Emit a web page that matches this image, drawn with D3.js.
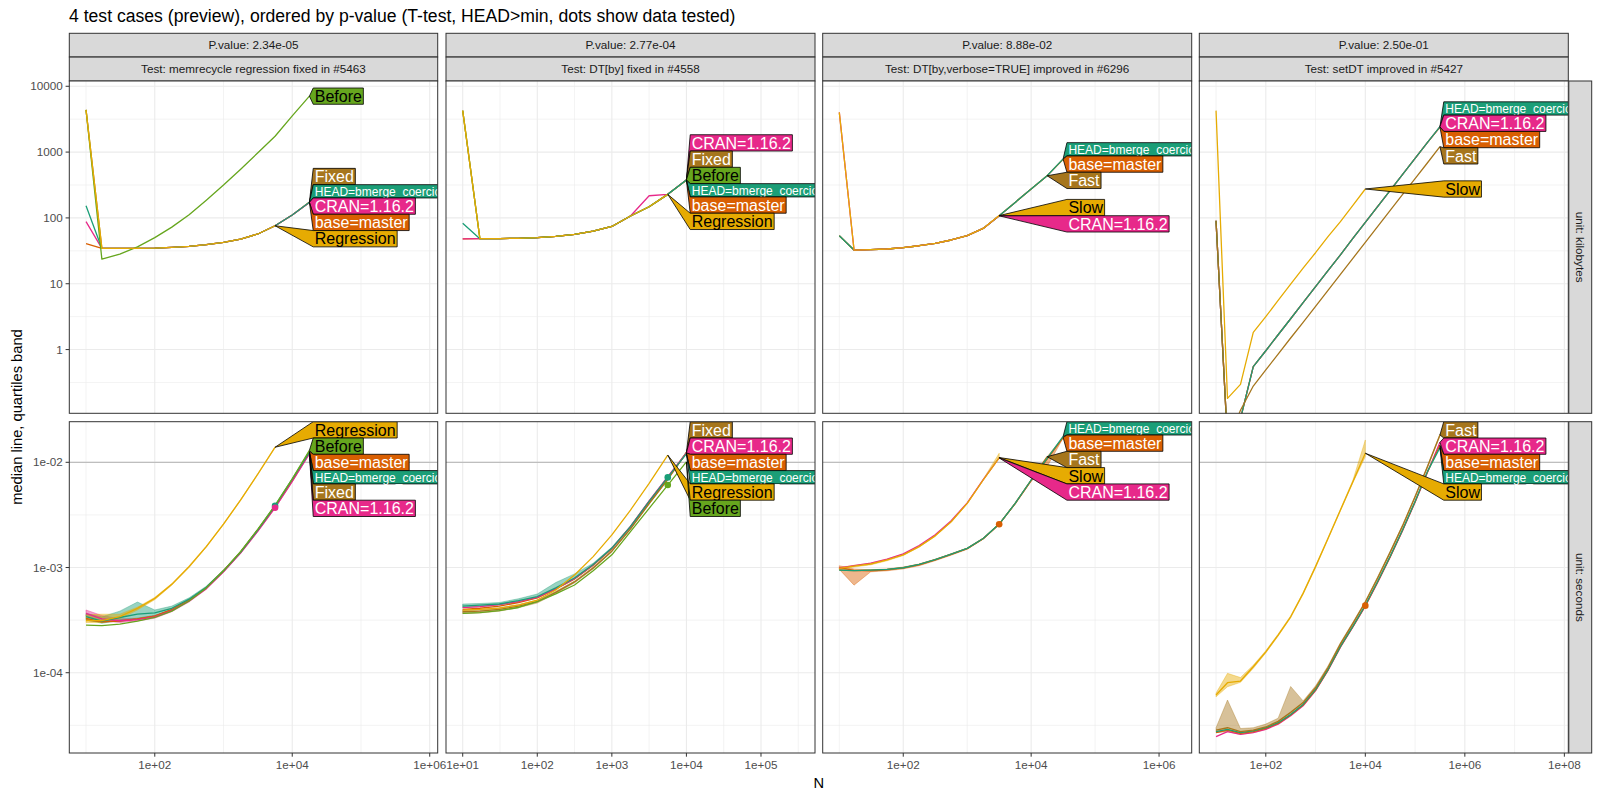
<!DOCTYPE html>
<html>
<head>
<meta charset="utf-8">
<script src="https://cdn.jsdelivr.net/npm/d3@7"></script>
<style>
  body { margin: 0; background: #fff; }
</style>
</head>
<body>
<div id="chart"></div>
<script>
// ---- data ----
const N_values = [10, 17, 31, 56, 100, 177, 316, 562, 1000, 1778, 3162, 5623, 10000, 17782, 31622, 56234, 100000, 177827, 316227];

const pValues = ["2.34e-05", "2.77e-04", "8.88e-02", "2.50e-01"];
const testNames = ["memrecycle regression fixed in #5463", "DT[by] fixed in #4558",
  "DT[by,verbose=TRUE] improved in #6296", "setDT improved in #5427"];
const units = ["kilobytes", "seconds"];

const seriesLabel = { HEAD: "HEAD=bmerge_coercion", base: "base=master", CRAN: "CRAN=1.16.2",
  Before: "Before", Regression: "Regression", Fixed: "Fixed", Fast: "Fast", Slow: "Slow" };

// memory, kilobytes (key order = drawing order)
const kb1 = {
  Fixed:      [4370, 34.4, 34.4, 34.5, 34.7, 35.7, 37.0, 39.2, 42.5, 47.8, 57.0, 76.0, 111, 174],
  base:       [40.6, 34.4, 34.4, 34.5, 34.7, 35.7, 37.0, 39.2, 42.5, 47.8, 57.0, 76.0, 111, 171],
  CRAN:       [88, 34.4, 34.4, 34.5, 34.7, 35.7, 37.0, 39.2, 42.5, 47.8, 57.0, 76.0, 111, 172],
  HEAD:       [153, 34.4, 34.4, 34.5, 34.7, 35.7, 37.0, 39.2, 42.5, 47.8, 57.0, 76.0, 111, 173],
  Before:     [4370, 23.7, 28.2, 36.3, 50.1, 72.4, 112, 186, 316, 550, 977, 1740, 3550, 7080],
  Regression: [4370, 34.4, 34.4, 34.5, 34.7, 35.7, 37.0, 39.2, 42.5, 47.8, 57.0, 76.0]
};
const kb2 = {
  Fixed:      [4270, 48.3, 48.5, 49.0, 50.1, 52.5, 56.2, 63.1, 74.1, 107, 148, 228, 378],
  base:       [48, 48.3, 48.5, 49.0, 50.1, 52.5, 56.2, 63.1, 74.1, 107, 148, 228, 374],
  CRAN:       [48, 48.3, 48.5, 49.0, 50.1, 52.5, 56.2, 63.1, 74.1, 107, 217, 228, 380],
  Before:     [4270, 48.3, 48.5, 49.0, 50.1, 52.5, 56.2, 63.1, 74.1, 107, 148, 228, 377],
  HEAD:       [83, 48.3, 48.5, 49.0, 50.1, 52.5, 56.2, 63.1, 74.1, 107, 148, 228, 376],
  Regression: [4270, 48.3, 48.5, 49.0, 50.1, 52.5, 56.2, 63.1, 74.1, 107, 148, 228]
};
const kb3 = {
  Fast: [53.7, 32.5, 32.9, 33.7, 35.3, 37.8, 41.1, 46.2, 53.7, 69.2, 108, 172, 275, 437],
  base: [53.7, 32.5, 32.9, 33.7, 35.3, 37.8, 41.1, 46.2, 53.7, 69.2, 108, 172, 275, 437, 780],
  HEAD: [53.7, 32.5, 32.9, 33.7, 35.3, 37.8, 41.1, 46.2, 53.7, 69.2, 108, 172, 275, 437, 790],
  CRAN: [4020, 32.5, 32.9, 33.7, 35.3, 37.8, 41.1, 46.2, 53.7, 69.2, 107.5],
  Slow: [4020, 32.5, 32.9, 33.7, 35.3, 37.8, 41.1, 46.2, 53.7, 69.2, 108.5]
};
const kb4 = {
  CRAN: [90.8, 0.0398, 0.0891, 0.550, 0.959, 1.68, 2.94, 5.15, 9.02, 15.8, 27.5, 48.8, 85.5, 150, 262, 458, 804, 1406, 2420],
  base: [90.8, 0.0398, 0.0891, 0.550, 0.959, 1.68, 2.94, 5.15, 9.02, 15.8, 27.5, 48.8, 85.5, 150, 262, 458, 804, 1406, 2400],
  HEAD: [90.8, 0.0398, 0.0891, 0.550, 0.959, 1.68, 2.94, 5.15, 9.02, 15.8, 27.5, 48.8, 85.5, 150, 262, 458, 804, 1406, 2440],
  Fast: [90.8, 0.0398, 0.120, 0.279, 0.490, 0.855, 1.50, 2.59, 4.53, 7.93, 13.9, 24.3, 42.5, 74.3, 130, 228, 394, 689, 1208],
  Slow: [4266, 0.181, 0.296, 1.82, 3.16, 5.58, 9.89, 17.3, 29.6, 51.9, 87.7, 155, 275]
};

// time, seconds: median
const sec1 = {
  Fixed:      [3.17e-4, 3.05e-4, 3.10e-4, 3.25e-4, 3.45e-4, 3.95e-4, 4.85e-4, 6.40e-4, 9.25e-4, 1.40e-3, 2.27e-3, 3.78e-3, 6.72e-3, 1.23e-2],
  base:       [3.29e-4, 3.05e-4, 3.12e-4, 3.25e-4, 3.45e-4, 3.98e-4, 4.90e-4, 6.46e-4, 9.33e-4, 1.41e-3, 2.29e-3, 3.80e-3, 6.76e-3, 1.27e-2],
  CRAN:       [3.66e-4, 3.25e-4, 3.12e-4, 3.20e-4, 3.40e-4, 3.90e-4, 4.80e-4, 6.30e-4, 9.10e-4, 1.38e-3, 2.22e-3, 3.70e-3, 6.60e-3, 1.21e-2],
  HEAD:       [3.41e-4, 3.10e-4, 3.35e-4, 3.60e-4, 3.70e-4, 4.10e-4, 5.00e-4, 6.50e-4, 9.30e-4, 1.40e-3, 2.28e-3, 3.85e-3, 6.90e-3, 1.25e-2],
  Before:     [2.84e-4, 2.80e-4, 2.90e-4, 3.10e-4, 3.35e-4, 3.85e-4, 4.80e-4, 6.40e-4, 9.30e-4, 1.42e-3, 2.32e-3, 3.90e-3, 6.95e-3, 1.30e-2],
  Regression: [3.13e-4, 3.13e-4, 3.41e-4, 4.09e-4, 5.09e-4, 6.92e-4, 1.02e-3, 1.58e-3, 2.59e-3, 4.39e-3, 7.74e-3, 1.39e-2]
};
const sec2 = {
  Fixed:      [3.80e-4, 3.85e-4, 4.00e-4, 4.30e-4, 4.75e-4, 5.80e-4, 7.30e-4, 9.90e-4, 1.43e-3, 2.33e-3, 4.05e-3, 6.90e-3, 1.24e-2],
  base:       [4.00e-4, 4.10e-4, 4.30e-4, 4.65e-4, 5.15e-4, 6.25e-4, 7.80e-4, 1.05e-3, 1.51e-3, 2.43e-3, 4.20e-3, 7.10e-3, 1.225e-2],
  CRAN:       [4.15e-4, 4.25e-4, 4.45e-4, 4.75e-4, 5.20e-4, 6.30e-4, 7.85e-4, 1.06e-3, 1.52e-3, 2.46e-3, 4.30e-3, 7.30e-3, 1.23e-2],
  Before:     [3.66e-4, 3.72e-4, 3.89e-4, 4.17e-4, 4.73e-4, 5.62e-4, 6.82e-4, 9.33e-4, 1.32e-3, 2.19e-3, 3.65e-3, 6.08e-3, 1.01e-2],
  HEAD:       [4.30e-4, 4.40e-4, 4.50e-4, 4.85e-4, 5.30e-4, 6.40e-4, 7.95e-4, 1.07e-3, 1.53e-3, 2.45e-3, 4.25e-3, 7.19e-3, 1.21e-2],
  Regression: [3.94e-4, 4.00e-4, 4.12e-4, 4.40e-4, 4.91e-4, 6.11e-4, 8.49e-4, 1.27e-3, 2.04e-3, 3.52e-3, 6.31e-3, 1.17e-2]
};
const sec3 = {
  Fast: [9.46e-4, 9.33e-4, 9.46e-4, 9.59e-4, 9.95e-4, 1.07e-3, 1.19e-3, 1.34e-3, 1.52e-3, 1.89e-3, 2.59e-3, 4.07e-3, 6.79e-3, 1.13e-2],
  base: [1.00e-3, 9.40e-4, 9.30e-4, 9.50e-4, 9.90e-4, 1.06e-3, 1.18e-3, 1.33e-3, 1.51e-3, 1.88e-3, 2.58e-3, 4.05e-3, 6.70e-3, 1.07e-2, 1.72e-2],
  HEAD: [9.46e-4, 9.33e-4, 9.46e-4, 9.59e-4, 9.95e-4, 1.07e-3, 1.19e-3, 1.34e-3, 1.52e-3, 1.89e-3, 2.59e-3, 4.07e-3, 6.79e-3, 1.09e-2, 1.76e-2],
  CRAN: [9.90e-4, 1.04e-3, 1.10e-3, 1.20e-3, 1.35e-3, 1.62e-3, 2.05e-3, 2.78e-3, 4.12e-3, 6.85e-3, 1.10e-2],
  Slow: [9.82e-4, 1.03e-3, 1.08e-3, 1.18e-3, 1.32e-3, 1.58e-3, 2.00e-3, 2.72e-3, 4.07e-3, 6.79e-3, 1.11e-2]
};
const sec4 = {
  CRAN: [2.47e-5, 2.75e-5, 2.60e-5, 2.70e-5, 2.90e-5, 3.25e-5, 3.90e-5, 4.85e-5, 6.75e-5, 1.05e-4, 1.75e-4, 2.72e-4, 4.30e-4, 7.25e-4, 1.26e-3, 2.25e-3, 4.18e-3, 8.05e-3, 1.55e-2],
  base: [2.70e-5, 2.85e-5, 2.65e-5, 2.75e-5, 2.96e-5, 3.30e-5, 3.96e-5, 4.93e-5, 6.84e-5, 1.06e-4, 1.77e-4, 2.74e-4, 4.34e-4, 7.33e-4, 1.27e-3, 2.27e-3, 4.22e-3, 8.13e-3, 1.45e-2],
  HEAD: [2.75e-5, 2.90e-5, 2.70e-5, 2.80e-5, 3.00e-5, 3.35e-5, 4.00e-5, 5.00e-5, 6.90e-5, 1.07e-4, 1.78e-4, 2.76e-4, 4.38e-4, 7.40e-4, 1.28e-3, 2.29e-3, 4.25e-3, 8.20e-3, 1.38e-2],
  Fast: [2.85e-5, 3.00e-5, 2.75e-5, 2.85e-5, 3.05e-5, 3.45e-5, 4.20e-5, 5.20e-5, 7.20e-5, 1.12e-4, 1.88e-4, 2.95e-4, 4.70e-4, 8.00e-4, 1.40e-3, 2.50e-3, 4.70e-3, 9.10e-3, 1.82e-2],
  Slow: [6.14e-5, 8.04e-5, 8.34e-5, 1.14e-4, 1.58e-4, 2.28e-4, 3.40e-4, 5.68e-4, 1.02e-3, 1.89e-3, 3.52e-3, 6.55e-3, 1.22e-2]
};

// time, seconds: quartile bands (only where the band is wide enough to see)
const q25_1 = {
  CRAN:       [3.45e-4, 3.10e-4, 3.00e-4, 3.10e-4, 3.30e-4, 3.80e-4, 4.70e-4, 6.20e-4, 9.00e-4, 1.36e-3, 2.20e-3, 3.65e-3, 6.50e-3, 1.19e-2],
  HEAD:       [3.20e-4, 2.95e-4, 3.15e-4, 3.30e-4, 3.50e-4, 3.95e-4, 4.85e-4, 6.35e-4, 9.10e-4, 1.38e-3, 2.24e-3, 3.75e-3, 6.75e-3, 1.22e-2],
  Regression: [3.00e-4, 3.00e-4, 3.25e-4, 3.95e-4, 4.95e-4, 6.80e-4, 1.00e-3, 1.56e-3, 2.56e-3, 4.35e-3, 7.65e-3, 1.37e-2]
};
const q75_1 = {
  CRAN:       [3.95e-4, 3.50e-4, 3.25e-4, 3.30e-4, 3.50e-4, 4.00e-4, 4.90e-4, 6.40e-4, 9.20e-4, 1.40e-3, 2.25e-3, 3.75e-3, 6.70e-3, 1.23e-2],
  HEAD:       [3.65e-4, 3.40e-4, 3.85e-4, 4.70e-4, 3.95e-4, 4.30e-4, 5.15e-4, 6.65e-4, 9.50e-4, 1.43e-3, 2.32e-3, 3.95e-3, 7.05e-3, 1.28e-2],
  Regression: [3.55e-4, 3.60e-4, 3.60e-4, 4.20e-4, 5.20e-4, 7.05e-4, 1.04e-3, 1.60e-3, 2.62e-3, 4.45e-3, 7.85e-3, 1.41e-2]
};
const q25_2 = {
  Fixed: [3.65e-4, 3.70e-4, 3.85e-4, 4.15e-4, 4.60e-4, 5.65e-4, 7.15e-4, 9.70e-4, 1.41e-3, 2.30e-3, 4.00e-3, 6.80e-3, 1.22e-2],
  HEAD:  [4.15e-4, 4.25e-4, 4.40e-4, 4.70e-4, 5.15e-4, 6.20e-4, 7.75e-4, 1.05e-3, 1.50e-3, 2.41e-3, 4.18e-3, 7.05e-3, 1.19e-2]
};
const q75_2 = {
  Fixed: [3.95e-4, 4.00e-4, 4.15e-4, 4.45e-4, 4.90e-4, 5.95e-4, 7.45e-4, 1.01e-3, 1.45e-3, 2.36e-3, 4.10e-3, 7.00e-3, 1.26e-2],
  HEAD:  [4.50e-4, 4.55e-4, 4.65e-4, 5.05e-4, 5.60e-4, 7.20e-4, 8.70e-4, 1.10e-3, 1.56e-3, 2.49e-3, 4.32e-3, 7.30e-3, 1.23e-2]
};
const q25_3 = {
  base: [9.60e-4, 6.80e-4, 9.10e-4, 9.30e-4, 9.70e-4, 1.04e-3, 1.16e-3, 1.31e-3, 1.49e-3, 1.86e-3, 2.55e-3, 4.00e-3, 6.60e-3, 9.10e-3, 1.70e-2],
  Slow: [9.60e-4, 1.01e-3, 1.06e-3, 1.16e-3, 1.30e-3, 1.56e-3, 1.98e-3, 2.70e-3, 4.03e-3, 6.70e-3, 1.09e-2]
};
const q75_3 = {
  base: [1.04e-3, 9.70e-4, 9.50e-4, 9.70e-4, 1.01e-3, 1.08e-3, 1.20e-3, 1.35e-3, 1.53e-3, 1.90e-3, 2.61e-3, 4.10e-3, 6.80e-3, 1.13e-2, 1.74e-2],
  Slow: [1.00e-3, 1.05e-3, 1.10e-3, 1.20e-3, 1.34e-3, 1.60e-3, 2.02e-3, 2.75e-3, 4.12e-3, 6.90e-3, 1.22e-2]
};
const q25_4 = {
  Fast: [2.70e-5, 2.75e-5, 2.60e-5, 2.70e-5, 2.90e-5, 3.30e-5, 4.00e-5, 5.00e-5, 6.90e-5, 1.08e-4, 1.83e-4, 2.88e-4, 4.60e-4, 7.80e-4, 1.37e-3, 2.45e-3, 4.60e-3, 8.90e-3, 1.78e-2],
  Slow: [5.90e-5, 7.36e-5, 8.10e-5, 1.10e-4, 1.54e-4, 2.23e-4, 3.33e-4, 5.58e-4, 1.00e-3, 1.86e-3, 3.46e-3, 6.40e-3, 1.13e-2]
};
const q75_4 = {
  Fast: [3.00e-5, 5.50e-5, 2.95e-5, 3.00e-5, 3.25e-5, 3.70e-5, 7.40e-5, 5.40e-5, 7.50e-5, 1.16e-4, 1.93e-4, 3.02e-4, 4.80e-4, 8.20e-4, 1.43e-3, 2.55e-3, 4.80e-3, 9.30e-3, 1.86e-2],
  Slow: [6.40e-5, 9.86e-5, 9.00e-5, 1.18e-4, 1.62e-4, 2.33e-4, 3.47e-4, 5.78e-4, 1.04e-3, 1.92e-3, 3.58e-3, 6.75e-3, 1.63e-2]
};

// N at which the test compared versions, and which series got a dot
const testedN = [5623, 5623, 3162, 10000];
const dotSeries = [["HEAD", "CRAN"], ["Before", "HEAD"], ["base"], ["base"]];

const kbData = [kb1, kb2, kb3, kb4];
const secData = [sec1, sec2, sec3, sec4];
const q25Data = [q25_1, q25_2, q25_3, q25_4];
const q75Data = [q75_1, q75_2, q75_3, q75_4];

// axes
const xDomains = [[5.71, 1.306e6], [5.97, 5.30e5], [5.50, 3.24e6], [4.61, 1.20e8]];
const xTicks = [[1e2, 1e4, 1e6], [1e1, 1e2, 1e3, 1e4, 1e5], [1e2, 1e4, 1e6], [1e2, 1e4, 1e6, 1e8]];
const xTickLabels = [["1e+02", "1e+04", "1e+06"], ["1e+01", "1e+02", "1e+03", "1e+04", "1e+05"],
  ["1e+02", "1e+04", "1e+06"], ["1e+02", "1e+04", "1e+06", "1e+08"]];
const yDomains = [[0.1076, 12023], [1.726e-5, 0.02432]];
const yTicks = [[1, 10, 100, 1000, 10000], [1e-4, 1e-3, 1e-2]];
const yTickLabels = [["1", "10", "100", "1000", "10000"], ["1e-04", "1e-03", "1e-02"]];
const timeLimit = 0.01;

// ---- styling / layout ----
const W = 1600, H = 800;
const FONT = '"Liberation Sans", Arial, Helvetica, sans-serif';
const colors = { HEAD: "#1B9E77", base: "#D95F02", CRAN: "#E7298A", Before: "#66A61E",
  Regression: "#E6AB02", Slow: "#E6AB02", Fixed: "#A6761D", Fast: "#A6761D" };
const darkText = { Before: true, Regression: true, Slow: true };
const colX = [[69.3, 437.7], [446, 815], [822.7, 1191.7], [1199.3, 1568.3]];
const rowY = [[81, 413.3], [421.7, 753]];

const svg = d3.select("#chart").append("svg")
  .attr("width", W).attr("height", H)
  .style("font-family", FONT);
svg.append("rect").attr("width", W).attr("height", H).attr("fill", "#fff");
const defs = svg.append("defs");

svg.append("text").attr("x", 69).attr("y", 22).attr("font-size", 17.6).attr("fill", "#000")
  .text("4 test cases (preview), ordered by p-value (T-test, HEAD>min, dots show data tested)");

// label stacking: keep boxes near their line ends without overlap (pool adjacent violators)
function placeLabels(items, top, bottom) {
  items.sort((a, b) => a.ty - b.ty);
  const s = [0];
  for (let i = 1; i < items.length; i++) s[i] = s[i - 1] + (items[i - 1].h + items[i].h) / 2;
  const blocks = [];
  items.forEach((d, i) => {
    blocks.push({ sum: d.ty - s[i], n: 1 });
    while (blocks.length > 1) {
      const a = blocks[blocks.length - 2], b = blocks[blocks.length - 1];
      if (a.sum / a.n <= b.sum / b.n) break;
      blocks.pop(); a.sum += b.sum; a.n += b.n;
    }
  });
  const u = [];
  blocks.forEach(b => { for (let k = 0; k < b.n; k++) u.push(b.sum / b.n); });
  const last = items.length - 1;
  const lo = top + items[0].h / 2, hi = bottom - items[last].h / 2 - s[last];
  items.forEach((d, i) => { d.cy = s[i] + Math.min(Math.max(u[i], lo), hi); });
}

function midpoints(ticks) {
  // minor grid lines sit halfway (in log) between majors, one extra at each end
  const out = [];
  const f = ticks.length > 1 ? ticks[1] / ticks[0] : 10;
  out.push(ticks[0] / Math.sqrt(f));
  ticks.forEach(t => out.push(t * Math.sqrt(f)));
  return out;
}

for (let c = 0; c < 4; c++) {
  const [x0, x1] = colX[c];
  const x = d3.scaleLog().domain(xDomains[c]).range([x0, x1]);

  // top strips
  svg.append("rect").attr("x", x0).attr("y", 33.3).attr("width", x1 - x0).attr("height", 23.6)
    .attr("fill", "#D9D9D9").attr("stroke", "#333").attr("stroke-width", 1);
  svg.append("text").attr("x", (x0 + x1) / 2).attr("y", 49.2).attr("text-anchor", "middle")
    .attr("font-size", 11.7).attr("fill", "#1A1A1A").text("P.value: " + pValues[c]);
  svg.append("rect").attr("x", x0).attr("y", 57.1).attr("width", x1 - x0).attr("height", 23.9)
    .attr("fill", "#D9D9D9").attr("stroke", "#333").attr("stroke-width", 1);
  svg.append("text").attr("x", (x0 + x1) / 2).attr("y", 73.1).attr("text-anchor", "middle")
    .attr("font-size", 11.7).attr("fill", "#1A1A1A").text("Test: " + testNames[c]);

  for (let r = 0; r < 2; r++) {
    const [y0, y1] = rowY[r];
    const y = d3.scaleLog().domain(yDomains[r]).range([y1, y0]);
    const data = r === 0 ? kbData[c] : secData[c];
    const keys = Object.keys(data);
    const clipId = "clip" + c + "_" + r;
    defs.append("clipPath").attr("id", clipId).append("rect")
      .attr("x", x0).attr("y", y0).attr("width", x1 - x0).attr("height", y1 - y0);

    const g = svg.append("g");
    g.append("rect").attr("x", x0).attr("y", y0).attr("width", x1 - x0).attr("height", y1 - y0)
      .attr("fill", "#fff");

    const grid = g.append("g").attr("clip-path", `url(#${clipId})`);
    midpoints(xTicks[c]).forEach(v => grid.append("line")
      .attr("x1", x(v)).attr("x2", x(v)).attr("y1", y0).attr("y2", y1)
      .attr("stroke", "#EBEBEB").attr("stroke-width", 0.6));
    midpoints(yTicks[r]).forEach(v => grid.append("line")
      .attr("x1", x0).attr("x2", x1).attr("y1", y(v)).attr("y2", y(v))
      .attr("stroke", "#EBEBEB").attr("stroke-width", 0.6));
    xTicks[c].forEach(v => grid.append("line")
      .attr("x1", x(v)).attr("x2", x(v)).attr("y1", y0).attr("y2", y1)
      .attr("stroke", "#EBEBEB").attr("stroke-width", 1.1));
    yTicks[r].forEach(v => grid.append("line")
      .attr("x1", x0).attr("x2", x1).attr("y1", y(v)).attr("y2", y(v))
      .attr("stroke", "#EBEBEB").attr("stroke-width", 1.1));
    if (r === 1) {
      grid.append("line").attr("x1", x0).attr("x2", x1).attr("y1", y(timeLimit)).attr("y2", y(timeLimit))
        .attr("stroke", "#BEBEBE").attr("stroke-width", 1.3);
    }

    const plot = g.append("g").attr("clip-path", `url(#${clipId})`);

    // quartile bands
    if (r === 1) {
      const lo = q25Data[c], hi = q75Data[c];
      Object.keys(lo).forEach(k => {
        const area = d3.area()
          .x((d, i) => x(N_values[i]))
          .y0((d, i) => y(lo[k][i]))
          .y1((d, i) => y(hi[k][i]));
        plot.append("path").attr("d", area(lo[k]))
          .attr("fill", colors[k]).attr("fill-opacity", 0.45)
          .attr("stroke", colors[k]).attr("stroke-opacity", 0.6).attr("stroke-width", 0.6);
      });
    }

    // median lines
    const line = d3.line().x((d, i) => x(N_values[i])).y(d => y(d));
    keys.forEach(k => {
      plot.append("path").attr("d", line(data[k])).attr("fill", "none")
        .attr("stroke", colors[k]).attr("stroke-width", 1.3).attr("stroke-linejoin", "round");
    });

    // dots for the tested N
    if (r === 1) {
      const idx = N_values.indexOf(testedN[c]);
      dotSeries[c].forEach(k => {
        plot.append("circle").attr("cx", x(N_values[idx])).attr("cy", y(data[k][idx])).attr("r", 3.3)
          .attr("fill", colors[k]);
      });
    }

    // direct labels
    const items = keys.map(k => {
      const n = data[k].length - 1;
      const fs = k === "HEAD" ? 12 : 16;
      return { k, tx: x(N_values[n]), ty: y(data[k][n]), fs, h: 0.75 * fs + 4.3 };
    });
    const boxLeft = d3.max(items, d => d.tx) + 3.8;
    placeLabels(items, y0, y1);
    const lab = g.append("g").attr("clip-path", `url(#${clipId})`);
    items.forEach(d => {
      const lg = lab.append("g");
      const poly = lg.append("polygon");
      const t = lg.append("text").attr("x", boxLeft + 1.5).attr("y", d.cy + 0.36 * d.fs)
        .attr("font-size", d.fs).attr("fill", darkText[d.k] ? "#000" : "#fff")
        .text(seriesLabel[d.k]);
      const w = t.node().getComputedTextLength() + 3;
      const top = d.cy - d.h / 2, bot = d.cy + d.h / 2;
      poly.attr("points", [[d.tx, d.ty], [boxLeft, top], [boxLeft + w, top], [boxLeft + w, bot], [boxLeft, bot]]
        .map(p => p.join(",")).join(" "))
        .attr("fill", colors[d.k]).attr("stroke", "#000").attr("stroke-width", 0.8);
    });

    g.append("rect").attr("x", x0).attr("y", y0).attr("width", x1 - x0).attr("height", y1 - y0)
      .attr("fill", "none").attr("stroke", "#333").attr("stroke-width", 1);

    // left axis
    if (c === 0) {
      yTicks[r].forEach((v, i) => {
        svg.append("line").attr("x1", x0 - 3.7).attr("x2", x0).attr("y1", y(v)).attr("y2", y(v))
          .attr("stroke", "#333").attr("stroke-width", 1);
        svg.append("text").attr("x", x0 - 6.5).attr("y", y(v) + 4.1).attr("text-anchor", "end")
          .attr("font-size", 11.7).attr("fill", "#4D4D4D").text(yTickLabels[r][i]);
      });
    }
    // bottom axis
    if (r === 1) {
      xTicks[c].forEach((v, i) => {
        svg.append("line").attr("x1", x(v)).attr("x2", x(v)).attr("y1", y1).attr("y2", y1 + 3.7)
          .attr("stroke", "#333").attr("stroke-width", 1);
        svg.append("text").attr("x", x(v)).attr("y", y1 + 16).attr("text-anchor", "middle")
          .attr("font-size", 11.7).attr("fill", "#4D4D4D").text(xTickLabels[c][i]);
      });
    }
  }
}

// right strips
rowY.forEach(([y0, y1], r) => {
  svg.append("rect").attr("x", 1568.8).attr("y", y0).attr("width", 22.9).attr("height", y1 - y0)
    .attr("fill", "#D9D9D9").attr("stroke", "#333").attr("stroke-width", 1);
  svg.append("text").attr("transform", `translate(1580.2,${(y0 + y1) / 2}) rotate(90)`)
    .attr("text-anchor", "middle").attr("dominant-baseline", "central")
    .attr("font-size", 11.7).attr("fill", "#1A1A1A").text("unit: " + units[r]);
});

// axis titles
svg.append("text").attr("x", 818.8).attr("y", 788).attr("text-anchor", "middle")
  .attr("font-size", 14.7).attr("fill", "#000").text("N");
svg.append("text").attr("transform", "translate(16.5,417) rotate(-90)")
  .attr("text-anchor", "middle").attr("dominant-baseline", "central")
  .attr("font-size", 14.7).attr("fill", "#000").text("median line, quartiles band");
</script>
</body>
</html>
